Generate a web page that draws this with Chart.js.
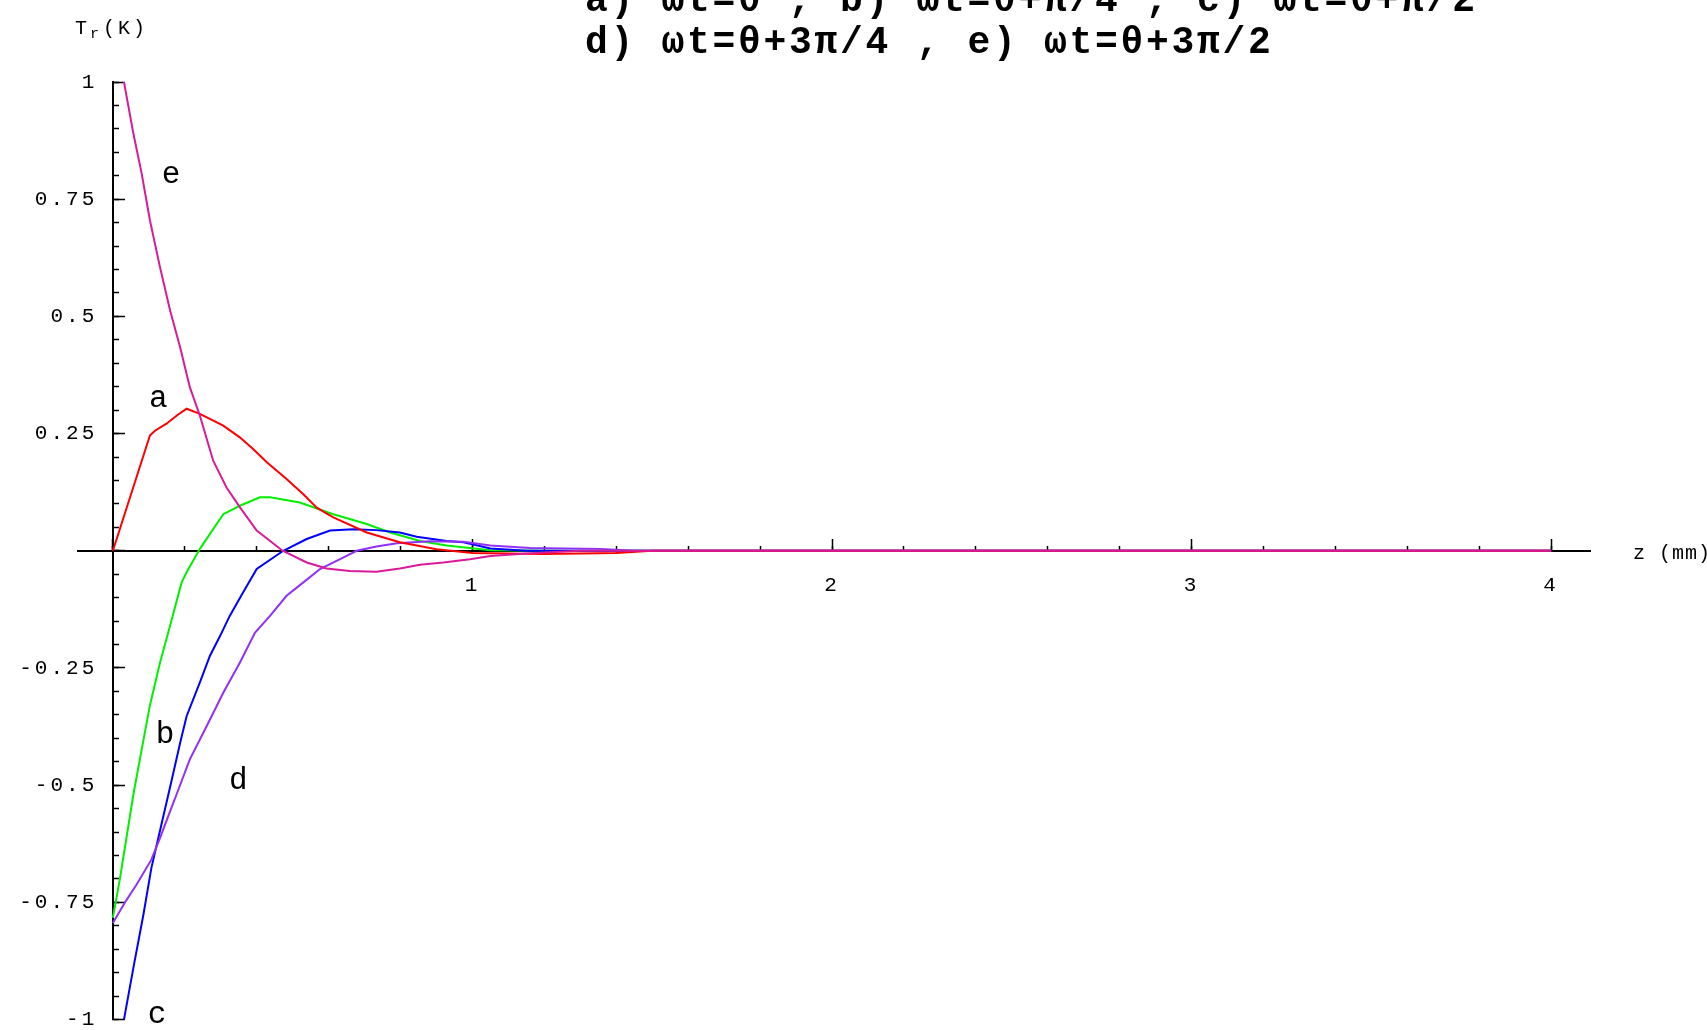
<!DOCTYPE html>
<html>
<head>
<meta charset="utf-8">
<script src="https://cdn.jsdelivr.net/npm/chart.js@4.4.0/dist/chart.umd.min.js"></script>
<style>
  html, body { margin: 0; padding: 0; background: #fff; }
  #wrap { width: 1707px; height: 1030px; }
</style>
</head>
<body>
<div id="wrap"><canvas id="waveChart" width="1707" height="1030"></canvas></div>
<script>
// depth z (mm) and temperature Tr (K) for each curve
const zA = [0, 0.103, 0.117, 0.149, 0.177, 0.205, 0.242, 0.307, 0.353, 0.39, 0.428, 0.483, 0.529, 0.567, 0.613, 0.706, 0.798, 0.9, 1.0, 1.2, 1.4, 1.5, 4];
const tA = [0, 0.246, 0.256, 0.271, 0.288, 0.303, 0.292, 0.267, 0.242, 0.217, 0.189, 0.153, 0.121, 0.092, 0.071, 0.039, 0.018, 0.003, -0.005, -0.007, -0.005, 0, 0];

const zB = [0, 0.02, 0.057, 0.075, 0.103, 0.131, 0.159, 0.191, 0.205, 0.242, 0.307, 0.353, 0.409, 0.437, 0.52, 0.613, 0.706, 0.771, 0.854, 0.928, 1.05, 1.25, 4];
const tB = [-0.783, -0.698, -0.52, -0.445, -0.33, -0.239, -0.16, -0.068, -0.046, 0.004, 0.078, 0.096, 0.114, 0.114, 0.103, 0.078, 0.057, 0.039, 0.021, 0.011, 0.001, 0, 0];

const zC = [0, 0.057, 0.085, 0.107, 0.135, 0.163, 0.187, 0.205, 0.242, 0.27, 0.298, 0.325, 0.362, 0.4, 0.474, 0.539, 0.604, 0.669, 0.733, 0.798, 0.845, 0.928, 0.975, 1.05, 1.15, 4];
const tC = [-1.13, -0.89, -0.776, -0.677, -0.584, -0.491, -0.41, -0.353, -0.281, -0.224, -0.182, -0.139, -0.089, -0.039, 0, 0.025, 0.043, 0.046, 0.044, 0.039, 0.03, 0.021, 0.018, 0.005, 0, 0];

const zD = [0, 0.033, 0.066, 0.107, 0.131, 0.154, 0.177, 0.214, 0.261, 0.307, 0.353, 0.395, 0.437, 0.483, 0.529, 0.576, 0.65, 0.678, 0.733, 0.79, 0.882, 0.975, 1.05, 1.16, 1.355, 1.45, 4];
const tD = [-0.794, -0.751, -0.712, -0.659, -0.613, -0.566, -0.52, -0.445, -0.374, -0.303, -0.239, -0.175, -0.139, -0.096, -0.068, -0.039, -0.011, 0, 0.009, 0.016, 0.02, 0.019, 0.011, 0.006, 0.004, 0, 0];

const zE = [0, 0.057, 0.08, 0.103, 0.131, 0.159, 0.187, 0.214, 0.242, 0.279, 0.316, 0.353, 0.4, 0.472, 0.539, 0.594, 0.659, 0.733, 0.798, 0.854, 0.919, 0.993, 1.05, 1.15, 1.3, 4];
const tE = [1.13, 0.89, 0.805, 0.705, 0.605, 0.513, 0.434, 0.349, 0.288, 0.192, 0.135, 0.093, 0.043, 0, -0.025, -0.038, -0.043, -0.045, -0.038, -0.03, -0.025, -0.018, -0.011, -0.006, 0, 0];

const titleLines = ['a) ωt=θ , b) ωt=θ+π/4 , c) ωt=θ+π/2', 'd) ωt=θ+3π/4 , e) ωt=θ+3π/2'];
const xMajorTicks = [1, 2, 3, 4];

// curve tags placed in data coordinates
const curveTags = [
    { text: 'e', z: 0.162, t: 0.801 },
    { text: 'a', z: 0.126, t: 0.324 },
    { text: 'b', z: 0.145, t: -0.392 },
    { text: 'd', z: 0.349, t: -0.491 },
    { text: 'c', z: 0.123, t: -0.99 }
];

function toPoints(zs, ts) {
    return zs.map((z, i) => ({ x: z, y: ts[i] }));
}

function lineSet(label, zs, ts, color) {
    return {
        label: label,
        data: toPoints(zs, ts),
        borderColor: color,
        borderWidth: 2,
        pointRadius: 0,
        tension: 0,
        fill: false,
        clip: 0
    };
}

const X_MIN = -0.097, X_MAX = 4.108;
const labelFont = { family: 'Liberation Mono', size: 21 };

// tick labels in the original are widely spaced
const spacingPlugin = {
    id: 'spacing',
    beforeDraw(chart) { chart.ctx.letterSpacing = '3px'; },
    afterDraw(chart) { chart.ctx.letterSpacing = '0px'; }
};

const textPlugin = {
    id: 'texts',
    afterDraw(chart) {
        const ctx = chart.ctx;
        const xs = chart.scales.x, ys = chart.scales.y;
        ctx.save();
        ctx.fillStyle = '#000';

        // title (first line runs off the top edge)
        ctx.font = 'bold 38px "Liberation Mono"';
        ctx.letterSpacing = '2.7px';
        ctx.textAlign = 'left';
        ctx.textBaseline = 'alphabetic';
        titleLines.forEach((line, i) => ctx.fillText(line, 585, 11 + i * 42));

        // axis names
        ctx.font = '20px "Liberation Mono"';
        ctx.letterSpacing = '3px';
        ctx.fillText('T', 75, 34);
        ctx.font = '15px "Liberation Mono"';
        ctx.fillText('r', 90, 38);
        ctx.font = '20px "Liberation Mono"';
        ctx.fillText('(K)', 103, 34);
        ctx.letterSpacing = '1px';
        ctx.fillText('z (mm)', 1633, 559);

        // curve tags
        ctx.font = '31px "Liberation Mono"';
        ctx.letterSpacing = '0px';
        ctx.textAlign = 'center';
        ctx.textBaseline = 'middle';
        curveTags.forEach(tag => {
            ctx.fillText(tag.text, xs.getPixelForValue(tag.z), ys.getPixelForValue(tag.t));
        });
        ctx.restore();
    }
};

const ctx = document.getElementById('waveChart').getContext('2d');
new Chart(ctx, {
    type: 'line',
    data: {
        datasets: [
            lineSet('e', zE, tE, '#d81b9a'),
            lineSet('a', zA, tA, '#ff0000'),
            lineSet('d', zD, tD, '#9030f8'),
            lineSet('c', zC, tC, '#0000ff'),
            lineSet('b', zB, tB, '#00f000')
        ]
    },
    options: {
        responsive: false,
        animation: false,
        layout: { padding: { left: 78, right: 117, top: 82, bottom: -15 } },
        plugins: {
            legend: { display: false },
            tooltip: { enabled: false }
        },
        scales: {
            x: {
                type: 'linear',
                position: { y: 0 },
                min: X_MIN,
                max: X_MAX,
                ticks: {
                    stepSize: 0.2,
                    includeBounds: false,
                    autoSkip: false,
                    callback: () => ''
                },
                grid: { drawOnChartArea: false, tickLength: -6, tickColor: '#000', tickWidth: 1.5 },
                border: { color: '#000', width: 2 }
            },
            x2: {
                type: 'linear',
                position: { y: 0 },
                min: X_MIN,
                max: X_MAX,
                ticks: {
                    stepSize: 1,
                    includeBounds: false,
                    autoSkip: false,
                    maxRotation: 0,
                    padding: 34,
                    color: '#000',
                    font: labelFont,
                    callback: (v) => xMajorTicks.includes(v) ? String(v) : ''
                },
                grid: { drawOnChartArea: false, tickLength: -12, tickColor: '#000', tickWidth: 1.5 },
                border: { display: false }
            },
            y: {
                type: 'linear',
                position: { x: 0 },
                min: -1,
                max: 1,
                ticks: {
                    stepSize: 0.05,
                    autoSkip: false,
                    padding: 0,
                    callback: () => ''
                },
                grid: { drawOnChartArea: false, tickLength: -7, tickColor: '#000', tickWidth: 1.5 },
                border: { color: '#000', width: 2 }
            },
            y2: {
                type: 'linear',
                position: { x: 0 },
                min: -1,
                max: 1,
                ticks: {
                    stepSize: 0.25,
                    autoSkip: false,
                    padding: 0,
                    color: '#000',
                    font: { family: 'Liberation Mono', size: 21, lineHeight: 1 },
                    // trailing space keeps the label clear of the axis
                    callback: (v) => {
                        const r = Math.round(v * 100) / 100;
                        return r === 0 ? '' : String(r) + ' ';
                    }
                },
                grid: { drawOnChartArea: false, tickLength: -12, tickColor: '#000', tickWidth: 1.5 },
                border: { display: false }
            }
        }
    },
    plugins: [spacingPlugin, textPlugin]
});
</script>
</body>
</html>
